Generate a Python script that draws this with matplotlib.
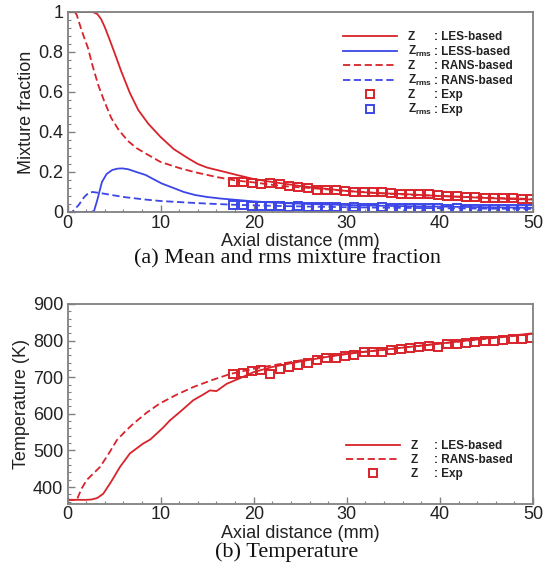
import numpy as np
import matplotlib
matplotlib.use('Agg')
import matplotlib.pyplot as plt
from matplotlib.lines import Line2D
from matplotlib.ticker import AutoMinorLocator, FuncFormatter

plt.rcParams['font.family'] = ['Liberation Sans', 'DejaVu Sans']
plt.rcParams['mathtext.fontset'] = 'custom'
plt.rcParams['mathtext.rm'] = 'Liberation Sans'
plt.rcParams['mathtext.it'] = 'Liberation Sans'
plt.rcParams['mathtext.bf'] = 'Liberation Sans:bold'

RED = '#d8232a'
BLUE = '#3c46e6'
SPINE = '#808080'

# ---- (a) mixture fraction ----
les_z_x = [0, 1, 2, 2.7, 3.2, 3.6, 4.0, 4.5, 5.1, 5.8, 6.7, 7.6, 8.7, 10.0, 11.4, 12.9, 14.0, 15.0, 16.5, 18.2,
           20, 22, 25, 28, 30, 33, 36, 40, 44, 47, 50]
les_z = [1, 1, 1, 1, 0.99, 0.965, 0.925, 0.865, 0.79, 0.70, 0.595, 0.51, 0.44, 0.375, 0.315, 0.27, 0.24, 0.222,
         0.205, 0.185, 0.165, 0.15, 0.13, 0.115, 0.105, 0.095, 0.09, 0.08, 0.072, 0.066, 0.062]

rans_z_x = [0.8, 1.0, 1.5, 2.2, 2.7, 3.3, 3.9, 4.7, 5.5, 6.5, 7.4, 8.3, 10.0, 12, 13.6, 16, 18, 20, 23, 26, 30,
            35, 40, 45, 50]
rans_z = [1.0, 0.985, 0.91, 0.82, 0.73, 0.635, 0.56, 0.47, 0.41, 0.355, 0.32, 0.295, 0.25, 0.22, 0.20, 0.175, 0.158,
          0.148, 0.13, 0.12, 0.105, 0.09, 0.08, 0.072, 0.065]

les_rms_x = [0, 2.5, 2.85, 3.2, 3.7, 4.2, 4.8, 5.4, 5.9, 6.5, 7.4, 8.4, 9.2, 10.1, 11.5, 12.5, 13.7, 15, 16.5,
             18.3, 20, 23, 26, 30, 35, 40, 45, 50]
les_rms = [0, 0, 0.005, 0.06, 0.15, 0.19, 0.21, 0.217, 0.218, 0.214, 0.2, 0.185, 0.165, 0.143, 0.118, 0.1, 0.085,
           0.075, 0.067, 0.06, 0.053, 0.045, 0.04, 0.035, 0.03, 0.027, 0.024, 0.021]

rans_rms_x = [0, 0.5, 1.2, 1.8, 2.3, 2.7, 3.5, 4.5, 6, 8.4, 10, 13.7, 16, 18, 22, 26, 30, 35, 40, 45, 50]
rans_rms = [0, 0, 0.035, 0.075, 0.097, 0.1, 0.095, 0.087, 0.075, 0.062, 0.055, 0.045, 0.04, 0.036, 0.031, 0.027,
            0.024, 0.021, 0.019, 0.017, 0.015]

exp_x = [17.8, 18.8, 19.8, 20.8, 21.8, 22.8, 23.8, 24.8, 25.8, 26.8, 27.8, 28.8, 29.8, 30.8, 31.8, 32.8, 33.8,
         34.8, 35.8, 36.8, 37.8, 38.8, 39.8, 40.8, 41.8, 42.8, 43.8, 44.8, 45.8, 46.8, 47.8, 48.8, 49.8]
exp_z = [0.152, 0.152, 0.145, 0.142, 0.145, 0.138, 0.132, 0.125, 0.12, 0.112, 0.11, 0.108, 0.104, 0.1, 0.1, 0.1,
         0.102, 0.095, 0.092, 0.088, 0.088, 0.09, 0.085, 0.08, 0.078, 0.075, 0.074, 0.072, 0.07, 0.068, 0.068,
         0.067, 0.067]
exp_rms = [0.035, 0.034, 0.032, 0.03, 0.031, 0.028, 0.027, 0.028, 0.025, 0.026, 0.024, 0.023, 0.022, 0.024, 0.022,
           0.021, 0.023, 0.021, 0.02, 0.019, 0.02, 0.018, 0.019, 0.017, 0.018, 0.017, 0.016, 0.017, 0.016, 0.015,
           0.016, 0.015, 0.015]

# ---- (b) temperature ----
les_t_x = [0, 1, 2, 2.6, 3.2, 3.85, 4.7, 5.64, 6.71, 7.4, 8.14, 8.9, 9.58, 10.3, 11.0, 12.3, 13.5, 14.4, 15.3,
           16.0, 17.1, 18.5, 20.0, 22, 25, 28, 31, 35, 40, 45, 50]
les_t = [365, 365, 365, 366, 370, 382, 415, 455, 492, 505, 519, 530, 546, 563, 582, 610, 637, 650, 664, 662, 682,
         697, 714, 728, 743, 756, 767, 778, 792, 806, 820]

rans_t_x = [0, 1.0, 1.5, 2.06, 2.7, 3.5, 4.4, 5.3, 6.2, 7.07, 8.5, 9.9, 11.7, 13.5, 15.5, 17.5, 20, 25, 30, 35,
            40, 45, 50]
rans_t = [365, 365, 395, 419, 435, 455, 490, 528, 552, 573, 603, 628, 652, 673, 692, 709, 723, 746, 764, 778,
          792, 805, 818]

exp_t = [708, 712, 716, 720, 708, 722, 728, 733, 740, 748, 752, 752, 758, 762, 768, 768, 770, 774, 778, 780, 782,
         784, 782, 790, 790, 794, 796, 798, 800, 802, 805, 804, 806]

W, H = 547, 577
fig = plt.figure(figsize=(W / 100, H / 100), dpi=100)
ax1 = fig.add_axes([67.5 / W, 1 - 212 / H, 465.5 / W, 200 / H])
ax2 = fig.add_axes([67.5 / W, 1 - 503.5 / H, 465.5 / W, 199.5 / H])

lw = 1.3
ms = 6
mew = 1.4
dash = (0, (4, 2))
ax1.plot(les_z_x, les_z, color=RED, lw=lw)
ax1.plot(les_rms_x, les_rms, color=BLUE, lw=lw)
ax1.plot(rans_z_x, rans_z, color=RED, lw=lw, ls=dash)
ax1.plot(rans_rms_x, rans_rms, color=BLUE, lw=lw, ls=dash)
ax1.plot(exp_x, exp_z, ls='none', marker='s', ms=ms, mfc='none', mec=RED, mew=mew)
ax1.plot(exp_x, exp_rms, ls='none', marker='s', ms=ms, mfc='none', mec=BLUE, mew=mew)
ax1.set_xlim(0, 50)
ax1.set_ylim(0, 1)
ax1.set_yticks([0, 0.2, 0.4, 0.6, 0.8, 1])
ax1.yaxis.set_major_formatter(FuncFormatter(lambda v, p: '%g' % v))

ax2.plot(les_t_x, les_t, color=RED, lw=lw)
ax2.plot(rans_t_x, rans_t, color=RED, lw=lw, ls=dash)
ax2.plot(exp_x, exp_t, ls='none', marker='s', ms=ms, mfc='none', mec=RED, mew=mew)
ax2.set_xlim(0, 50)
ax2.set_ylim(355, 900)
ax2.set_yticks([400, 500, 600, 700, 800, 900])

for ax, ylab in [(ax1, 'Mixture fraction'), (ax2, 'Temperature (K)')]:
    ax.set_xticks([0, 10, 20, 30, 40, 50])
    ax.xaxis.set_minor_locator(AutoMinorLocator(5))
    ax.yaxis.set_minor_locator(AutoMinorLocator(5))
    ax.tick_params(which='both', direction='in', color=SPINE, labelsize=13, labelcolor='#222222')
    ax.tick_params(which='major', length=5, width=1)
    ax.tick_params(which='minor', length=2.5, width=0.8)
    ax.tick_params(axis='x', pad=2)
    ax.tick_params(axis='y', pad=3)
    for s in ax.spines.values():
        s.set_color(SPINE)
        s.set_linewidth(1.3)
    ax.set_xlabel('Axial distance (mm)', fontsize=13, color='#222222', labelpad=1)
    ax.set_ylabel(ylab, fontsize=13, color='#222222', labelpad=2)

cap_font = dict(family='Liberation Serif', fontsize=16, ha='center', va='center', color='#111111')
fig.text(287 / W, 1 - 259 / H, '(a) Mean and rms mixture fraction', **cap_font)
fig.text(287 / W, 1 - 552 / H, '(b) Temperature', **cap_font)

leg_prop = dict(weight='bold', size=8.5)


def make_legend(ax, handles, names, tags, top_px, left_px, colon_px, spacing):
    leg = ax.legend(handles, names, loc='upper left', bbox_to_anchor=(left_px / W, 1 - top_px / H),
                    bbox_transform=fig.transFigure, frameon=False, prop=leg_prop, handlelength=4.6,
                    handletextpad=0.9, labelspacing=spacing, borderpad=0, borderaxespad=0, numpoints=1)
    for t in leg.get_texts():
        t.set_color('#222222')
    fig.canvas.draw()
    for t, s in zip(leg.get_texts(), tags):
        xb, yb = t.get_transform().transform(t.get_position())
        fx, fy = fig.transFigure.inverted().transform((colon_px, yb))
        fig.text(fx, fy, s, va='baseline', ha='left', fontweight='bold', fontsize=8.5, color='#222222')


h_top = [Line2D([], [], color=RED, lw=lw),
         Line2D([], [], color=BLUE, lw=lw),
         Line2D([], [], color=RED, lw=lw, ls=dash),
         Line2D([], [], color=BLUE, lw=lw, ls=dash),
         Line2D([], [], ls='none', marker='s', ms=ms, mfc='none', mec=RED, mew=mew),
         Line2D([], [], ls='none', marker='s', ms=ms, mfc='none', mec=BLUE, mew=mew)]
sub = r'Z$_{\mathbf{rms}}$'
names_top = ['Z', sub, 'Z', sub, 'Z', sub]
tags_top = [': LES-based', ': LESS-based', ': RANS-based', ': RANS-based', ': Exp', ': Exp']
make_legend(ax1, h_top, names_top, tags_top, 31, 343, 434, 0.08)

h_bot = [h_top[0], h_top[2], h_top[4]]
make_legend(ax2, h_bot, ['Z', 'Z', 'Z'], [': LES-based', ': RANS-based', ': Exp'], 440, 346, 434, 0.16)

fig.savefig('out.png', dpi=100)
